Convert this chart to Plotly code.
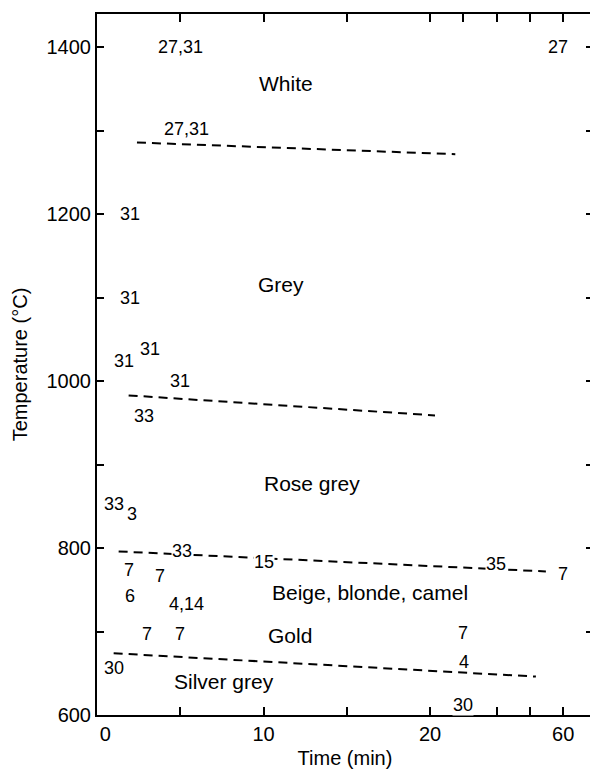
import plotly.graph_objects as go

# ---------------- data ----------------
# time axis is linear 0-20 min, then compressed (factor 5) from 20 to 60 min
tick_times = [0, 5, 10, 15, 20, 30, 40, 50, 60]
tick_labels = ["0", "", "10", "", "20", "", "", "", "60"]
temp_ticks = [600, 700, 800, 900, 1000, 1100, 1200, 1300, 1400]
temp_labels = ["600", "", "800", "", "1000", "", "1200", "", "1400"]

# dashed colour-boundary lines (start, end)
b_white_grey_t = [2.4, 27.6]
b_white_grey_T = [1286, 1272]
b_grey_rose_t = [1.9, 21.5]
b_grey_rose_T = [983, 959]
b_rose_beige_t = [1.3, 54.8]
b_rose_beige_T = [796, 772]
b_gold_silver_t = [1.0, 51.8]
b_gold_silver_T = [674, 646]

# reference numbers
ref_labels = ["27,31", "27", "27,31", "31", "31", "31", "31", "31", "33", "33", "3",
              "33", "15", "35", "7", "7", "7", "6", "4,14", "7", "7", "7", "4", "30", "30"]
ref_times = [5.0, 58.5, 5.4, 2.0, 2.0, 1.6, 3.2, 5.0, 2.8, 1.0, 2.1,
             5.1, 10.0, 39.8, 60.0, 1.9, 3.8, 2.0, 5.4, 3.0, 5.0, 29.8, 30.3, 30.0, 1.0]
ref_temps = [1400, 1400, 1302, 1200, 1100, 1024, 1038, 1000, 958, 853, 841,
             797, 783, 781, 769, 774, 766, 743, 733, 697, 697, 698, 664, 612, 656]

# colour region names
region_names = ["White", "Grey", "Rose grey", "Beige, blonde, camel", "Gold", "Silver grey"]
region_times = [11.35, 11.05, 12.9, 16.37, 11.6, 7.63]
region_temps = [1357, 1116, 877, 747, 695, 640]

# labels that sit on top of a line / tick and mask it
masking = {"33@797", "15@783", "35@781", "30@612"}


def tx(t):
    """piecewise time scale: linear to 20 min, then 5x compressed"""
    return t if t <= 20 else 20 + (t - 20) / 5.0


FONT = "Liberation Sans, Arial, Helvetica, sans-serif"

fig = go.Figure()

for ts, Ts in [(b_white_grey_t, b_white_grey_T), (b_grey_rose_t, b_grey_rose_T),
               (b_rose_beige_t, b_rose_beige_T), (b_gold_silver_t, b_gold_silver_T)]:
    fig.add_trace(go.Scatter(x=[tx(t) for t in ts], y=Ts, mode="lines",
                             line=dict(color="black", width=2, dash="9px,6px"),
                             showlegend=False, hoverinfo="skip"))

for lab, t, T in zip(ref_labels, ref_times, ref_temps):
    key = f"{lab}@{T}"
    fig.add_annotation(x=tx(t), y=T, text=lab, showarrow=False,
                       xanchor="center", yanchor="middle",
                       font=dict(family=FONT, size=18, color="black"),
                       bgcolor="white" if key in masking else "rgba(0,0,0,0)",
                       borderpad=0)

for lab, t, T in zip(region_names, region_times, region_temps):
    fig.add_annotation(x=tx(t), y=T, text=lab, showarrow=False,
                       xanchor="center", yanchor="middle",
                       font=dict(family=FONT, size=21, color="black"))

fig.update_layout(
    template="none",
    width=593, height=769,
    margin=dict(l=97, r=0, t=14, b=54, autoexpand=False),
    paper_bgcolor="white", plot_bgcolor="white",
    font=dict(family=FONT, size=20, color="black"),
    showlegend=False,
)

fig.update_xaxes(
    automargin=False,
    range=[0, 29.79],
    tickmode="array",
    tickvals=[tx(t) for t in tick_times],
    ticktext=["\u00a0\u00a0\u00a00" if s == "0" else s for s in tick_labels],
    ticks="inside", ticklen=8, tickwidth=2, tickcolor="black",
    showline=True, linewidth=2, linecolor="black", mirror="ticks",
    showgrid=False, zeroline=False,
    tickfont=dict(size=20),
    title=dict(text="Time (min)", font=dict(size=20), standoff=9),
)
fig.update_yaxes(
    automargin=False,
    range=[600, 1440],
    tickmode="array",
    tickvals=temp_ticks, ticktext=temp_labels,
    ticks="inside", ticklen=7, tickwidth=2, tickcolor="black",
    showline=True, linewidth=2, linecolor="black", mirror="ticks",
    showgrid=False, zeroline=False,
    tickfont=dict(size=20),
    title=dict(text="Temperature (°C)", font=dict(size=20), standoff=14),
)

fig.write_html(
    "out.html",
    config={"displayModeBar": False},
    post_script="document.body.style.margin='0';document.body.style.overflow='hidden';",
)
